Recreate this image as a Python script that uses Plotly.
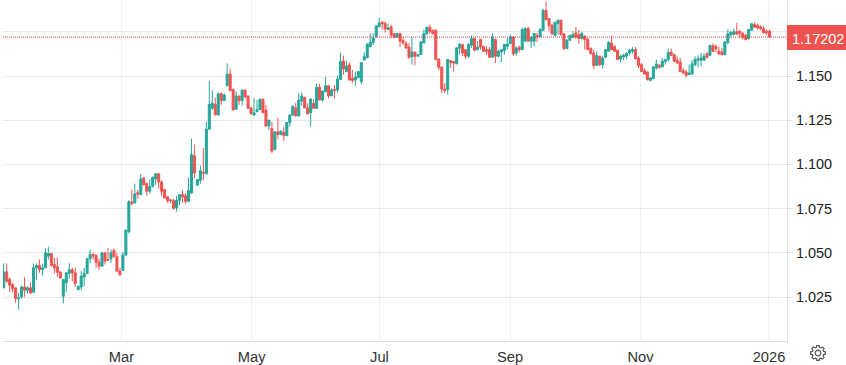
import math
import plotly.graph_objects as go

opens = [
1.0302,1.0392,1.0349,1.0320,1.0302,1.0241,1.0251,1.0307,1.0288,1.0302,
1.0277,1.0415,1.0428,1.0405,1.0415,1.0481,1.0496,1.0434,1.0421,1.0392,
1.0254,1.0330,1.0383,1.0404,1.0387,1.0292,1.0307,1.0362,1.0383,1.0466,
1.0491,1.0485,1.0447,1.0424,1.0500,1.0462,1.0466,1.0515,1.0477,1.0396,
1.0400,1.0487,1.0619,1.0788,1.0782,1.0840,1.0829,1.0923,1.0891,1.0848,
1.0876,1.0917,1.0947,1.0900,1.0857,1.0816,1.0800,1.0795,1.0754,1.0797,
1.0829,1.0823,1.0791,1.0838,1.1049,1.0882,1.0910,1.0955,1.0947,1.1199,
1.1318,1.1340,1.1280,1.1399,1.1361,1.1444,1.1511,1.1425,1.1312,1.1387,
1.1361,1.1421,1.1387,1.1320,1.1279,1.1298,1.1311,1.1368,1.1307,1.1217,
1.1203,1.1084,1.1184,1.1169,1.1181,1.1162,1.1237,1.1279,1.1320,1.1275,
1.1358,1.1379,1.1320,1.1292,1.1345,1.1317,1.1436,1.1364,1.1411,1.1445,
1.1387,1.1423,1.1421,1.1481,1.1585,1.1525,1.1562,1.1487,1.1477,1.1491,
1.1468,1.1591,1.1604,1.1666,1.1689,1.1725,1.1778,1.1804,1.1797,1.1763,
1.1778,1.1740,1.1719,1.1740,1.1700,1.1683,1.1664,1.1608,1.1636,1.1612,
1.1621,1.1687,1.1738,1.1776,1.1759,1.1759,1.1596,1.1551,1.1426,1.1423,
1.1587,1.1583,1.1570,1.1657,1.1678,1.1649,1.1612,1.1674,1.1712,1.1649,
1.1706,1.1668,1.1649,1.1649,1.1606,1.1706,1.1612,1.1636,1.1644,1.1668,
1.1683,1.1721,1.1630,1.1663,1.1649,1.1697,1.1768,1.1697,1.1697,1.1729,
1.1721,1.1759,1.1870,1.1825,1.1787,1.1729,1.1797,1.1816,1.1738,1.1655,
1.1702,1.1719,1.1744,1.1734,1.1712,1.1725,1.1706,1.1655,1.1630,1.1560,
1.1612,1.1564,1.1606,1.1640,1.1687,1.1668,1.1646,1.1596,1.1608,1.1612,
1.1630,1.1640,1.1649,1.1602,1.1564,1.1530,1.1523,1.1475,1.1485,1.1545,
1.1560,1.1551,1.1583,1.1593,1.1636,1.1621,1.1589,1.1579,1.1530,1.1523,
1.1508,1.1511,1.1564,1.1589,1.1589,1.1589,1.1625,1.1617,1.1672,1.1668,
1.1640,1.1636,1.1621,1.1689,1.1734,1.1734,1.1750,1.1753,1.1740,1.1730,
1.1712,1.1759,1.1791,1.1785,1.1778,1.1768,1.1753,1.1753]

highs = [
1.0440,1.0440,1.0362,1.0330,1.0302,1.0273,1.0315,1.0362,1.0311,1.0334,
1.0440,1.0440,1.0462,1.0438,1.0525,1.0534,1.0496,1.0472,1.0472,1.0392,
1.0353,1.0387,1.0443,1.0415,1.0415,1.0311,1.0396,1.0415,1.0472,1.0519,
1.0500,1.0491,1.0466,1.0506,1.0500,1.0528,1.0519,1.0523,1.0500,1.0415,
1.0506,1.0633,1.0798,1.0857,1.0891,1.0857,1.0947,1.0929,1.0899,1.0917,
1.0932,1.0951,1.0947,1.0910,1.0861,1.0820,1.0805,1.0806,1.0823,1.0829,
1.0853,1.0838,1.0927,1.1145,1.1111,1.0914,1.0994,1.1092,1.1243,1.1472,
1.1421,1.1378,1.1408,1.1408,1.1402,1.1572,1.1543,1.1425,1.1412,1.1387,
1.1421,1.1421,1.1387,1.1320,1.1377,1.1364,1.1373,1.1373,1.1336,1.1250,
1.1241,1.1184,1.1264,1.1193,1.1213,1.1237,1.1285,1.1330,1.1349,1.1402,
1.1407,1.1383,1.1345,1.1373,1.1368,1.1458,1.1455,1.1415,1.1496,1.1445,
1.1430,1.1449,1.1502,1.1632,1.1615,1.1585,1.1577,1.1534,1.1525,1.1525,
1.1576,1.1634,1.1685,1.1742,1.1742,1.1789,1.1829,1.1810,1.1810,1.1797,
1.1791,1.1740,1.1744,1.1740,1.1719,1.1697,1.1687,1.1719,1.1636,1.1621,
1.1697,1.1763,1.1782,1.1791,1.1763,1.1763,1.1596,1.1551,1.1460,1.1598,
1.1587,1.1583,1.1663,1.1687,1.1678,1.1649,1.1687,1.1729,1.1715,1.1697,
1.1710,1.1668,1.1668,1.1664,1.1740,1.1712,1.1649,1.1653,1.1683,1.1715,
1.1734,1.1721,1.1668,1.1672,1.1772,1.1776,1.1778,1.1725,1.1744,1.1744,
1.1772,1.1880,1.1923,1.1825,1.1797,1.1804,1.1819,1.1816,1.1744,1.1710,
1.1734,1.1753,1.1778,1.1759,1.1750,1.1731,1.1715,1.1663,1.1649,1.1640,
1.1615,1.1615,1.1653,1.1697,1.1729,1.1672,1.1649,1.1621,1.1625,1.1634,
1.1653,1.1664,1.1664,1.1612,1.1574,1.1545,1.1523,1.1492,1.1557,1.1593,
1.1568,1.1602,1.1593,1.1655,1.1655,1.1625,1.1612,1.1602,1.1545,1.1536,
1.1564,1.1589,1.1611,1.1617,1.1630,1.1630,1.1636,1.1678,1.1683,1.1678,
1.1664,1.1659,1.1697,1.1763,1.1750,1.1768,1.1800,1.1757,1.1748,1.1740,
1.1763,1.1800,1.1806,1.1797,1.1787,1.1782,1.1763,1.1763]

lows = [
1.0298,1.0330,1.0277,1.0277,1.0217,1.0179,1.0241,1.0251,1.0269,1.0269,
1.0273,1.0345,1.0387,1.0371,1.0415,1.0462,1.0424,1.0383,1.0364,1.0353,
1.0213,1.0277,1.0353,1.0339,1.0307,1.0292,1.0288,1.0311,1.0379,1.0440,
1.0462,1.0415,1.0405,1.0424,1.0434,1.0453,1.0443,1.0477,1.0396,1.0368,
1.0396,1.0485,1.0610,1.0769,1.0782,1.0805,1.0829,1.0880,1.0823,1.0835,
1.0870,1.0885,1.0863,1.0820,1.0806,1.0782,1.0782,1.0744,1.0733,1.0769,
1.0782,1.0778,1.0791,1.0835,1.0923,1.0882,1.0891,1.0910,1.0942,1.1195,
1.1308,1.1280,1.1276,1.1337,1.1361,1.1444,1.1417,1.1308,1.1312,1.1337,
1.1333,1.1374,1.1314,1.1279,1.1275,1.1298,1.1307,1.1288,1.1213,1.1194,
1.1065,1.1084,1.1143,1.1165,1.1133,1.1162,1.1213,1.1275,1.1269,1.1269,
1.1332,1.1317,1.1283,1.1213,1.1317,1.1317,1.1364,1.1354,1.1411,1.1373,
1.1387,1.1373,1.1407,1.1477,1.1506,1.1525,1.1474,1.1458,1.1445,1.1487,
1.1453,1.1591,1.1600,1.1661,1.1676,1.1714,1.1778,1.1763,1.1744,1.1759,
1.1713,1.1713,1.1719,1.1663,1.1678,1.1653,1.1596,1.1564,1.1560,1.1612,
1.1621,1.1687,1.1734,1.1740,1.1734,1.1589,1.1533,1.1404,1.1404,1.1394,
1.1545,1.1526,1.1564,1.1621,1.1612,1.1596,1.1602,1.1659,1.1640,1.1646,
1.1649,1.1636,1.1621,1.1602,1.1606,1.1574,1.1606,1.1578,1.1621,1.1649,
1.1683,1.1615,1.1615,1.1634,1.1649,1.1697,1.1693,1.1659,1.1668,1.1691,
1.1721,1.1753,1.1816,1.1753,1.1734,1.1729,1.1734,1.1729,1.1646,1.1655,
1.1697,1.1715,1.1710,1.1683,1.1706,1.1649,1.1646,1.1621,1.1542,1.1559,
1.1555,1.1542,1.1602,1.1640,1.1646,1.1636,1.1593,1.1578,1.1589,1.1596,
1.1615,1.1627,1.1596,1.1545,1.1523,1.1508,1.1475,1.1470,1.1485,1.1536,
1.1542,1.1551,1.1564,1.1583,1.1612,1.1579,1.1568,1.1521,1.1511,1.1492,
1.1508,1.1511,1.1555,1.1549,1.1555,1.1589,1.1598,1.1612,1.1636,1.1636,
1.1621,1.1617,1.1617,1.1678,1.1719,1.1731,1.1731,1.1712,1.1706,1.1700,
1.1706,1.1757,1.1772,1.1763,1.1757,1.1740,1.1731,1.1715]

closes = [
1.0392,1.0339,1.0317,1.0296,1.0241,1.0245,1.0307,1.0288,1.0302,1.0273,
1.0415,1.0428,1.0405,1.0415,1.0500,1.0496,1.0428,1.0415,1.0390,1.0358,
1.0349,1.0387,1.0404,1.0387,1.0326,1.0311,1.0368,1.0383,1.0466,1.0491,
1.0481,1.0447,1.0424,1.0500,1.0453,1.0458,1.0500,1.0477,1.0396,1.0377,
1.0487,1.0627,1.0789,1.0778,1.0833,1.0832,1.0917,1.0885,1.0848,1.0876,
1.0927,1.0947,1.0900,1.0848,1.0810,1.0795,1.0795,1.0752,1.0797,1.0829,
1.0816,1.0791,1.0852,1.1055,1.0951,1.0914,1.0964,1.0951,1.1199,1.1340,
1.1346,1.1280,1.1399,1.1361,1.1393,1.1511,1.1417,1.1308,1.1387,1.1361,
1.1421,1.1383,1.1318,1.1288,1.1292,1.1311,1.1368,1.1294,1.1217,1.1250,
1.1075,1.1184,1.1169,1.1188,1.1162,1.1237,1.1279,1.1330,1.1275,1.1364,
1.1387,1.1320,1.1286,1.1370,1.1317,1.1436,1.1364,1.1415,1.1445,1.1387,
1.1421,1.1419,1.1483,1.1581,1.1540,1.1557,1.1477,1.1474,1.1494,1.1525,
1.1576,1.1610,1.1680,1.1691,1.1714,1.1783,1.1800,1.1795,1.1766,1.1772,
1.1732,1.1719,1.1740,1.1697,1.1687,1.1659,1.1606,1.1636,1.1612,1.1621,
1.1693,1.1740,1.1774,1.1753,1.1740,1.1593,1.1549,1.1426,1.1417,1.1593,
1.1577,1.1574,1.1659,1.1678,1.1630,1.1612,1.1678,1.1712,1.1646,1.1664,
1.1664,1.1640,1.1640,1.1606,1.1719,1.1612,1.1640,1.1649,1.1678,1.1681,
1.1721,1.1625,1.1659,1.1649,1.1763,1.1768,1.1697,1.1719,1.1740,1.1721,
1.1763,1.1872,1.1819,1.1785,1.1738,1.1804,1.1816,1.1734,1.1655,1.1702,
1.1729,1.1734,1.1721,1.1712,1.1740,1.1706,1.1649,1.1627,1.1560,1.1615,
1.1564,1.1602,1.1649,1.1691,1.1649,1.1640,1.1593,1.1612,1.1617,1.1627,
1.1646,1.1649,1.1596,1.1560,1.1526,1.1511,1.1479,1.1489,1.1551,1.1568,
1.1549,1.1583,1.1593,1.1634,1.1617,1.1583,1.1574,1.1526,1.1517,1.1504,
1.1517,1.1568,1.1593,1.1598,1.1602,1.1611,1.1606,1.1672,1.1640,1.1655,
1.1625,1.1621,1.1693,1.1738,1.1748,1.1750,1.1738,1.1740,1.1719,1.1706,
1.1763,1.1795,1.1776,1.1772,1.1768,1.1744,1.1744,1.17202]

date_ticks = [39.5, 83.2, 126.1, 169.9, 213.7, 256.8]
date_labels = ["Mar", "May", "Jul", "Sep", "Nov", "2026"]
price_ticks = [1.025, 1.050, 1.075, 1.100, 1.125, 1.150, 1.175]
price_labels = ["1.025", "1.050", "1.075", "1.100", "1.125", "1.150", ""]
last_price = closes[-1]
last_label = "1.17202"

UP = "#26a69a"
DOWN = "#ef5350"
FONT = "Liberation Sans, Arial, sans-serif"
W, H = 846, 365
L, R, T, B = 3, 59, 0, 24
PW, PH = W - L - R, H - T - B

fig = go.Figure(go.Candlestick(
    x=list(range(len(opens))), open=opens, high=highs, low=lows, close=closes,
    whiskerwidth=0,
    increasing=dict(line=dict(color=UP, width=1), fillcolor=UP),
    decreasing=dict(line=dict(color=DOWN, width=1), fillcolor=DOWN),
    hoverinfo="skip", showlegend=False,
))

# settings gear drawn as an outline in page pixels
def gear_path(cx, cy, r_out, r_in, r_hole, teeth=8):
    def px(x, y):
        return f"{(x - L) / PW:.5f},{(H - B - y) / PH:.5f}"
    pts = []
    for k in range(teeth):
        a = 2 * math.pi * k / teeth
        s = 2 * math.pi / teeth
        for da, r in [(-0.36, r_in), (-0.2, r_out), (0.2, r_out), (0.36, r_in)]:
            t = a + da * s
            pts.append((cx + r * math.cos(t), cy + r * math.sin(t)))
    d = "M" + " L".join(px(*p) for p in pts) + " Z "
    hole = [(cx + r_hole * math.cos(2 * math.pi * k / 16), cy + r_hole * math.sin(2 * math.pi * k / 16)) for k in range(16)]
    d += "M" + " L".join(px(*p) for p in hole) + " Z"
    return d

fig.update_layout(
    width=W, height=H,
    margin=dict(l=L, r=R, t=T, b=B),
    paper_bgcolor="white", plot_bgcolor="white",
    font=dict(family=FONT, size=14, color="#333333"),
    boxgap=0.32, boxgroupgap=0,
    xaxis=dict(
        range=[-0.235, 262.85], rangeslider=dict(visible=False),
        tickmode="array", tickvals=date_ticks, ticktext=date_labels,
        showgrid=True, gridcolor="#f0f1f4", gridwidth=1, zeroline=False,
        showline=True, linecolor="#e0e0e0", linewidth=1,
        ticks="", tickfont=dict(size=14.7, color="#333333"), ticklabelstandoff=2,
    ),
    yaxis=dict(
        side="right", range=[1.00011, 1.19299],
        tickmode="array", tickvals=price_ticks, ticktext=price_labels,
        showgrid=True, gridcolor="#e8e8e8", gridwidth=1, zeroline=False,
        showline=True, linecolor="#e0e0e0", linewidth=1,
        ticks="outside", ticklen=5, tickcolor="#e0e0e0",
        tickfont=dict(size=14.5, color="#222222"),
    ),
    shapes=[
        dict(type="line", xref="paper", yref="y", x0=0, x1=1, y0=last_price, y1=last_price,
             line=dict(color="#c94442", width=1, dash="1px,1px"), layer="above"),
        dict(type="rect", xref="paper", yref="paper", layer="above",
             x0=1, x1=(W - L) / PW, y0=(H - B - 50) / PH, y1=(H - B - 25) / PH,
             fillcolor=DOWN, line=dict(width=0)),
        dict(type="path", xref="paper", yref="paper", layer="above",
             path=gear_path(818, 353, 7.5, 5.8, 2.8),
             line=dict(color="#555555", width=1.2), fillcolor="rgba(0,0,0,0)"),
    ],
    annotations=[
        dict(text=last_label, xref="paper", yref="paper", x=(817.5 - L) / PW, y=(H - B - 39) / PH,
             xanchor="center", yanchor="middle", showarrow=False,
             font=dict(size=14.5, color="white", family=FONT)),
    ],
)

fig.write_html("out.html", config=dict(displayModeBar=False), post_script="document.body.style.margin='0';")
